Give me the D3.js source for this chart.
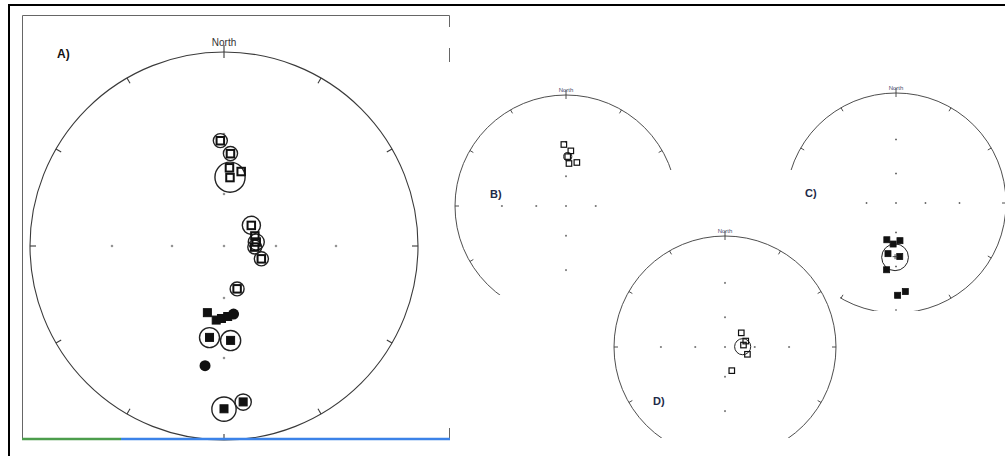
<!DOCTYPE html>
<html><head><meta charset="utf-8">
<script src="https://cdn.jsdelivr.net/npm/d3@7"></script>
<style>html,body{margin:0;padding:0;background:#fff}svg{display:block}</style>
</head><body><svg id="chart" width="1005" height="456"></svg>
<script>
// ---- Directions (declination °, inclination °, alpha95 °; 0 = no cone) ----
// Panel A: upper-hemisphere (open) and lower-hemisphere (filled) site means
const aOpenDec = [358, 4, 4, 13, 5, 53, 72, 83, 92, 109, 163];
const aOpenInc = [-33, -39, -46, -47, -51, -70, -71, -71, -72, -67, -64];
const aOpenA95 = [3.2, 3.4, 0, 0, 7.9, 5.2, 0, 4.6, 4.0, 4.0, 3.9];
const aFillDec = [194, 186, 182, 177, 189, 176, 180, 173];
const aFillInc = [51, 48, 49, 50, 39, 38, 10, 12];
const aFillA95 = [0, 0, 0, 0, 4.8, 4.8, 4.2, 2.9];
const aDotDec = [172, 189];
const aDotInc = [51, 26];

// Panel B: normal-polarity specimens, with the group mean cone
const bDec = [358, 5, 2, 4, 14];
const bInc = [-32, -37, -42, -48, -46];
const bMeanDec = [2], bMeanInc = [-42], bMeanA95 = [3.5];

// Panel C: reversed-polarity specimens, with the group mean
const cDec = [194, 184, 174, 189, 176, 188, 179, 174];
const cInc = [52, 49, 52, 40, 38, 27, 10, 12];
const cMeanDec = [181], cMeanInc = [38], cMeanA95 = [11.2];

// Panel D: steep upper-hemisphere specimens, with the group mean
const dDec = [49, 74, 84, 108, 164];
const dInc = [-68, -68, -71, -66, -65];
const dMeanDec = [89], dMeanInc = [-72], dMeanA95 = [8.1];

// Net furniture
const tickAz = d3.range(0, 360, 30);
const gridInc = [60, 30];
const gridAz = [0, 90, 180, 270];
const panelLabels = ["A)", "B)", "C)", "D)"];
const northLabel = "North";

const svg = d3.select("#chart");
const RAD = Math.PI / 180;

// Stereographic (equal-angle) net drawn into a group
function makeNet(g, o) {
  const x = d3.scaleLinear().domain([-1, 1]).range([o.cx - o.R, o.cx + o.R]);
  const y = d3.scaleLinear().domain([-1, 1]).range([o.cy + o.R, o.cy - o.R]);
  const rr = inc => Math.tan((90 - Math.abs(inc)) * RAD / 2);
  const pos = (dec, inc) => {
    const r = rr(inc), t = dec * RAD;
    return [x(r * Math.sin(t)), y(r * Math.cos(t))];
  };
  const cone = (dec, inc, a) => {
    const c = 90 - Math.abs(inc);
    const r1 = Math.tan((c - a) * RAD / 2), r2 = Math.tan((c + a) * RAD / 2);
    const m = (r1 + r2) / 2, t = dec * RAD;
    return { cx: x(m * Math.sin(t)), cy: y(m * Math.cos(t)), r: x((r2 - r1) / 2) - x(0) };
  };

  // primitive circle
  g.append("circle").attr("cx", x(0)).attr("cy", y(0)).attr("r", x(1) - x(0))
    .attr("fill", "none").attr("stroke", "#3a3a3a").attr("stroke-width", o.lw);

  // azimuth ticks
  const tl = o.tick / o.R, to = o.northOut / o.R;
  g.selectAll("line.tk").data(tickAz).join("line").attr("class", "tk")
    .attr("x1", d => x((d === 0 ? 1 + to : 1) * Math.sin(d * RAD)))
    .attr("y1", d => y((d === 0 ? 1 + to : 1) * Math.cos(d * RAD)))
    .attr("x2", d => x((1 - tl) * Math.sin(d * RAD)))
    .attr("y2", d => y((1 - tl) * Math.cos(d * RAD)))
    .attr("stroke", "#3a3a3a").attr("stroke-width", o.lw);

  // inclination grid marks along the cardinal axes
  const gp = [[0, 90]];
  gridAz.forEach(a => gridInc.forEach(i => gp.push([a, i])));
  g.selectAll("path.gm").data(gp).join("path").attr("class", "gm")
    .attr("d", d => { const [px, py] = pos(d[0], d[1]); const s = o.mark;
      return `M${px - s},${py}H${px + s}M${px},${py - s}V${py + s}`; })
    .attr("stroke", "#666").attr("stroke-width", 0.9);

  g.append("text").attr("x", x(0)).attr("y", y(1) - o.northGap)
    .attr("text-anchor", "middle").attr("font-size", o.northSize)
    .attr("font-family", "Liberation Sans, Arial, sans-serif")
    .attr("fill", o.northFill).text(northLabel);

  return { pos, cone };
}

function drawCones(g, net, dec, inc, a95, lw) {
  g.selectAll(null).data(dec.map((d, i) => [d, inc[i], a95[i]]).filter(d => d[2] > 0))
    .join("circle")
    .each(function (d) { const c = net.cone(d[0], d[1], d[2]);
      d3.select(this).attr("cx", c.cx).attr("cy", c.cy).attr("r", c.r); })
    .attr("fill", "none").attr("stroke", "#222").attr("stroke-width", lw);
}
function drawSquares(g, net, dec, inc, size, filled, lw) {
  g.selectAll(null).data(dec.map((d, i) => net.pos(d, inc[i]))).join("rect")
    .attr("x", d => d[0] - size / 2).attr("y", d => d[1] - size / 2)
    .attr("width", size).attr("height", size)
    .attr("fill", filled ? "#111" : "#fff").attr("fill-opacity", filled ? 1 : 0)
    .attr("stroke", "#111").attr("stroke-width", lw);
}

// ---------------- Page frame ----------------
svg.append("rect").attr("width", 1005).attr("height", 456).attr("fill", "#fff");
svg.append("path").attr("d", "M9,457V5H1005").attr("fill", "none")
  .attr("stroke", "#000").attr("stroke-width", 2);

// ---------------- Panel A ----------------
const gA = svg.append("g");
gA.append("path").attr("d", "M22.5,439V15.5H449.5V27M449.5,48V62M449.5,428V439")
  .attr("fill", "none").attr("stroke", "#666").attr("stroke-width", 1);
const netA = makeNet(gA, { cx: 224, cy: 246, R: 194, lw: 1.1, tick: 6, northOut: 7,
  mark: 1.2, northGap: 6, northSize: 10, northFill: "#333" });
drawCones(gA, netA, aOpenDec, aOpenInc, aOpenA95, 1.4);
drawCones(gA, netA, aFillDec, aFillInc, aFillA95, 1.4);
drawSquares(gA, netA, aOpenDec, aOpenInc, 7.5, false, 2);
drawSquares(gA, netA, aFillDec, aFillInc, 8, true, 1);
gA.selectAll(null).data(aDotDec.map((d, i) => netA.pos(d, aDotInc[i]))).join("circle")
  .attr("cx", d => d[0]).attr("cy", d => d[1]).attr("r", 5.5).attr("fill", "#111");
gA.append("line").attr("x1", 22).attr("x2", 121).attr("y1", 439).attr("y2", 439)
  .attr("stroke", "#4c9d4c").attr("stroke-width", 2.5);
gA.append("line").attr("x1", 121).attr("x2", 450).attr("y1", 439).attr("y2", 439)
  .attr("stroke", "#3b82e8").attr("stroke-width", 2.5);

// clip regions for the inset nets
const defs = svg.append("defs");
defs.append("clipPath").attr("id", "clipB").append("rect").attr("x", 451).attr("y", 78).attr("width", 260).attr("height", 217);
defs.append("clipPath").attr("id", "clipC").append("rect").attr("x", 780).attr("y", 78).attr("width", 225).attr("height", 233);
defs.append("clipPath").attr("id", "clipD").append("rect").attr("x", 606).attr("y", 170).attr("width", 234).attr("height", 268);

const small = { lw: 0.9, tick: 4, northOut: 5, mark: 1, northGap: 3, northSize: 6, northFill: "#4a4a6a" };

// ---------------- Panel B ----------------
const gB = svg.append("g").attr("clip-path", "url(#clipB)");
const netB = makeNet(gB, Object.assign({ cx: 566, cy: 206, R: 111 }, small));
drawCones(gB, netB, bMeanDec, bMeanInc, bMeanA95, 1);
drawSquares(gB, netB, bDec, bInc, 5.5, false, 1.2);

// ---------------- Panel C ----------------
const gC = svg.append("g").attr("clip-path", "url(#clipC)");
const netC = makeNet(gC, Object.assign({ cx: 896, cy: 203, R: 110 }, small));
drawCones(gC, netC, cMeanDec, cMeanInc, cMeanA95, 1);
drawSquares(gC, netC, cDec, cInc, 6, true, 0.8);
gC.selectAll(null).data(cMeanDec.map((d, i) => netC.pos(d, cMeanInc[i]))).join("path")
  .attr("d", d => `M${d[0] - 2.5},${d[1]}H${d[0] + 2.5}M${d[0]},${d[1] - 2.5}V${d[1] + 2.5}`)
  .attr("stroke", "#333").attr("stroke-width", 0.9);

// ---------------- Panel D (on top of the lower parts of B and C) ----------------
svg.append("rect").attr("x", 606).attr("y", 170).attr("width", 234).attr("height", 268).attr("fill", "#fff");
const gD = svg.append("g").attr("clip-path", "url(#clipD)");
const netD = makeNet(gD, Object.assign({ cx: 725, cy: 347, R: 111 }, small));
drawCones(gD, netD, dMeanDec, dMeanInc, dMeanA95, 1);
drawSquares(gD, netD, dDec, dInc, 5.5, false, 1.2);

// ---------------- Panel letters, set over everything ----------------
const labelPos = [[57, 58, "#111", 12], [490, 198, "#1d2a48", 11], [805, 197, "#1d2a48", 11], [653, 405, "#1d2a48", 11]];
svg.selectAll("text.panel").data(panelLabels).join("text").attr("class", "panel")
  .attr("x", (d, i) => labelPos[i][0]).attr("y", (d, i) => labelPos[i][1])
  .attr("fill", (d, i) => labelPos[i][2]).attr("font-size", (d, i) => labelPos[i][3])
  .attr("font-weight", "bold").attr("font-family", "Liberation Sans, Arial, sans-serif")
  .text(d => d);
</script>
</body></html>
